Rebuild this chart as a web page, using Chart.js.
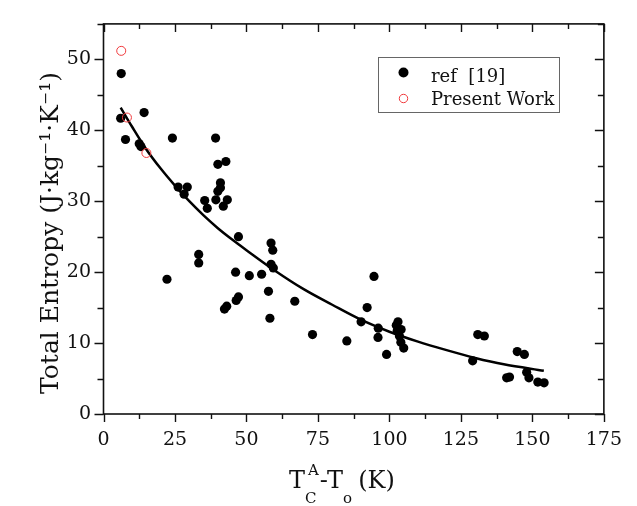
<!DOCTYPE html>
<html>
<head>
<meta charset="utf-8">
<script src="https://cdn.jsdelivr.net/npm/chart.js@4.4.1/dist/chart.umd.min.js"></script>
<style>
  html, body { margin: 0; padding: 0; background: #fff; }
  #wrap { width: 637px; height: 506px; }
</style>
</head>
<body>
<div id="wrap"><canvas id="entropyChart" width="637" height="506"></canvas></div>
<script>
// data
const refX = [6.2, 6.0, 14.2, 7.7, 12.5, 13.1, 24.1, 39.2, 40.0, 42.8, 40.9, 40.9, 40.0, 39.3, 43.3, 41.9,
  26.1, 29.3, 28.2, 35.4, 36.3, 47.2, 58.6, 59.2, 33.3, 33.3, 58.6, 59.4, 22.2, 46.2, 51.0, 55.3, 57.7,
  47.2, 46.4, 43.1, 42.3, 58.2, 66.9, 73.1, 85.1, 90.1, 92.2, 94.6, 96.1, 96.0, 99.0, 103.0, 102.4, 104.1,
  102.7, 103.5, 104.0, 105.0, 129.1, 130.9, 133.2, 141.0, 142.0, 144.7, 147.2, 148.0, 148.8, 151.9, 154.1];
const refY = [48.0, 41.7, 42.5, 38.7, 38.1, 37.7, 38.9, 38.9, 35.2, 35.6, 32.6, 31.9, 31.4, 30.2, 30.2, 29.3,
  32.0, 32.0, 31.0, 30.1, 29.0, 25.0, 24.1, 23.1, 22.5, 21.3, 21.1, 20.6, 19.0, 20.0, 19.5, 19.7, 17.3,
  16.5, 16.0, 15.2, 14.8, 13.5, 15.9, 11.2, 10.3, 13.0, 15.0, 19.4, 12.1, 10.8, 8.4, 13.0, 12.5, 11.9,
  11.7, 11.0, 10.1, 9.3, 7.5, 11.2, 11.0, 5.1, 5.2, 8.8, 8.4, 5.9, 5.1, 4.5, 4.4];

const presentX = [6.2, 8.2, 15.0];
const presentY = [51.2, 41.8, 36.8];

// fitted curve
const fitX = [6, 10, 15, 20, 25, 30, 35, 40, 45, 50, 60, 70, 80, 90, 100, 110, 120, 130, 140, 154];
const fitY = [43.2, 40.5, 37.3, 34.6, 32.2, 30.0, 28.0, 26.2, 24.6, 23.1, 20.2, 17.6, 15.4, 13.3, 11.6, 10.2, 9.0, 7.9, 7.0, 6.1];

const xTicks = [0, 25, 50, 75, 100, 125, 150, 175];
const yTicks = [0, 10, 20, 30, 40, 50];
const xMinor = 12.5;
const yMinor = 5;

const serif = "'DejaVu Serif', serif";
const toPts = (xs, ys) => xs.map((x, i) => ({ x, y: ys[i] }));

// frame, mirrored ticks, axis titles and legend box
const decor = {
  id: "decor",
  afterDraw(chart) {
    const { ctx, chartArea: a, scales } = chart;
    const sx = scales.x, sy = scales.y;
    ctx.save();
    ctx.strokeStyle = "#111";
    ctx.lineWidth = 1.6;
    ctx.strokeRect(a.left, a.top, a.right - a.left, a.bottom - a.top);

    ctx.beginPath();
    for (let v = sx.min; v <= sx.max + 0.01; v += xMinor) {
      const px = Math.round(sx.getPixelForValue(v)) + 0.5;
      const len = v % 25 === 0 ? 8 : 5;
      ctx.moveTo(px, a.bottom); ctx.lineTo(px, a.bottom + len);
      ctx.moveTo(px, a.top); ctx.lineTo(px, a.top + len);
    }
    for (let v = sy.min; v <= sy.max + 0.01; v += yMinor) {
      const py = Math.round(sy.getPixelForValue(v)) + 0.5;
      const len = v % 10 === 0 ? 9 : 6;
      ctx.moveTo(a.left, py); ctx.lineTo(a.left - len, py);
      ctx.moveTo(a.right, py); ctx.lineTo(a.right - len, py);
    }
    ctx.lineWidth = 1.4;
    ctx.stroke();

    // y title
    ctx.fillStyle = "#111";
    ctx.save();
    ctx.translate(58, 233);
    ctx.rotate(-Math.PI / 2);
    ctx.font = "25px " + serif;
    ctx.textAlign = "center";
    ctx.textBaseline = "alphabetic";
    ctx.fillText("Total Entropy (J·kg⁻¹·K⁻¹)", 0, 0);
    ctx.restore();

    // x title with sub/superscripts
    const big = "24px " + serif, small = "15px " + serif;
    const base = 488;
    let x = 289;
    ctx.textAlign = "left";
    ctx.textBaseline = "alphabetic";
    ctx.font = big; ctx.fillText("T", x, base); x += ctx.measureText("T").width;
    ctx.font = small;
    const wC = ctx.measureText("C").width, wA = ctx.measureText("A").width;
    ctx.fillText("C", x, base + 15);
    ctx.fillText("A", x + 3, base - 13);
    x += Math.max(wC, wA + 3) + 1;
    ctx.font = big; ctx.fillText("-T", x, base); x += ctx.measureText("-T").width;
    ctx.font = small; ctx.fillText("o", x, base + 15); x += ctx.measureText("o").width + 6;
    ctx.font = big; ctx.fillText("(K)", x, base);

    // legend
    ctx.lineWidth = 1;
    ctx.strokeStyle = "#666";
    ctx.strokeRect(378.5, 57.5, 181, 55);
    const ds = chart.data.datasets;
    ctx.beginPath();
    ctx.arc(403.5, 72.5, 5, 0, Math.PI * 2);
    ctx.fillStyle = ds[0].backgroundColor;
    ctx.fill();
    ctx.beginPath();
    ctx.arc(403.5, 98.5, 4.2, 0, Math.PI * 2);
    ctx.strokeStyle = ds[1].borderColor;
    ctx.stroke();
    ctx.fillStyle = "#111";
    ctx.font = "18px " + serif;
    ctx.fillText(ds[0].label, 431, 82);
    ctx.fillText(ds[1].label, 431, 105);
    ctx.restore();
  }
};

new Chart(document.getElementById("entropyChart"), {
  type: "scatter",
  data: {
    datasets: [
      {
        label: "ref  [19]",
        data: toPts(refX, refY),
        backgroundColor: "#000",
        borderWidth: 0,
        pointRadius: 4.6,
        order: 1,
      },
      {
        label: "Present Work",
        data: toPts(presentX, presentY),
        backgroundColor: "rgba(0,0,0,0)",
        borderColor: "#f0393c",
        borderWidth: 1,
        pointRadius: 4.5,
        order: 0,
      },
      {
        label: "fit",
        data: toPts(fitX, fitY),
        showLine: true,
        pointRadius: 0,
        borderColor: "#000",
        borderWidth: 2.5,
        cubicInterpolationMode: "monotone",
        order: 2,
      },
    ],
  },
  options: {
    responsive: false,
    animation: false,
    events: [],
    layout: { padding: { left: 0, right: 31, top: 11, bottom: 0 } },
    plugins: { legend: { display: false }, tooltip: { enabled: false } },
    scales: {
      x: {
        type: "linear",
        min: 0,
        max: 175,
        afterBuildTicks: (s) => { s.ticks = xTicks.map((v) => ({ value: v })); },
        afterFit: (s) => { s.height = 92; },
        grid: { display: false, drawTicks: false },
        border: { display: false },
        ticks: { color: "#111", padding: 15, font: { family: serif, size: 19 } },
      },
      y: {
        type: "linear",
        min: 0,
        max: 55,
        afterBuildTicks: (s) => { s.ticks = yTicks.map((v) => ({ value: v })); },
        afterFit: (s) => { s.width = 103.5; },
        grid: { display: false, drawTicks: false },
        border: { display: false },
        ticks: { color: "#111", padding: 12.5, font: { family: serif, size: 19 } },
      },
    },
  },
  plugins: [decor],
});
</script>
</body>
</html>
